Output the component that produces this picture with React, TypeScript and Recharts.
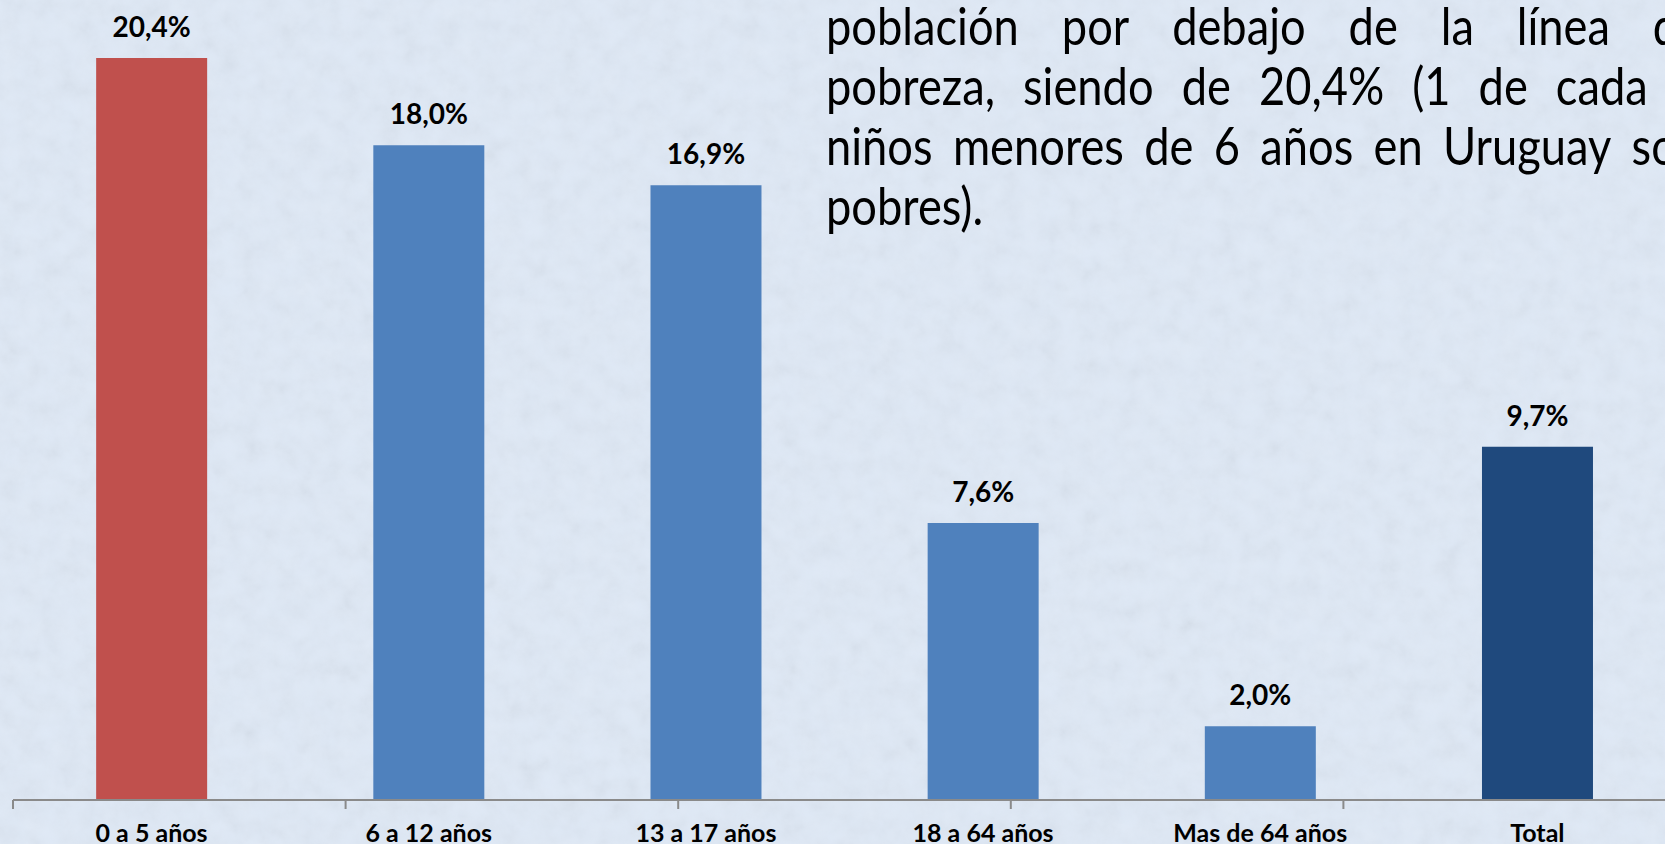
import { BarChart, Bar, XAxis, YAxis, LabelList, Cell } from 'recharts';

// Pobreza por tramo de edad (%)
const categories = ['0 a 5 años', '6 a 12 años', '13 a 17 años', '18 a 64 años', 'Mas de 64 años', 'Total'];
const values = [20.4, 18.0, 16.9, 7.6, 2.0, 9.7];
const barColors = ['#C0504D', '#4F81BD', '#4F81BD', '#4F81BD', '#4F81BD', '#1F497D'];
const boundaryTicks = [0, 1, 2, 3, 4, 5, 6];

const textLines = [
  ['población', 'por', 'debajo', 'de', 'la', 'línea', 'de'],
  ['pobreza,', 'siendo', 'de', '20,4%', '(1', 'de', 'cada', '5'],
  ['niños', 'menores', 'de', '6', 'años', 'en', 'Uruguay', 'son'],
];
const lastLine = 'pobres).';

const FONT = 'Lato, "Open Sans", sans-serif';

export default function App() {
  const chartData = categories.map((name, i) => ({ name, value: values[i] }));

  // Comma decimal, as in the original slide
  const fmt = (v: any) => `${Number(v).toFixed(1).replace('.', ',')}%`;

  return (
    <div
      style={{
        position: 'fixed',
        left: 0,
        top: 0,
        width: 1665,
        height: 844,
        overflow: 'hidden',
        background: '#dfe9f6',
        fontFamily: FONT,
      }}
    >
      {/* mottled paper texture */}
      <svg width={1665} height={844} style={{ position: 'absolute', left: 0, top: 0 }}>
        <filter id="paper">
          <feTurbulence type="fractalNoise" baseFrequency="0.05" numOctaves={4} seed={3} />
          <feColorMatrix type="saturate" values="0" />
        </filter>
        <rect width="100%" height="100%" filter="url(#paper)" opacity={0.12} />
      </svg>

      <div style={{ position: 'absolute', left: 0, top: 0 }}>
        <BarChart
          width={1700}
          height={844}
          data={chartData}
          margin={{ top: 0, right: 24, bottom: 43, left: 13 }}
          barCategoryGap="30%"
        >
          <YAxis hide domain={[0, 22]} yAxisId="y" />
          {/* tick marks sit on the category boundaries */}
          <XAxis
            xAxisId="grid"
            type="number"
            domain={[0, 6]}
            ticks={boundaryTicks}
            allowDataOverflow
            height={1}
            tickFormatter={() => ''}
            tickSize={9}
            tickLine={{ stroke: '#8a8a8a', strokeWidth: 2 }}
            axisLine={{ stroke: '#8a8a8a', strokeWidth: 2 }}
          />
          <XAxis
            xAxisId="cat"
            dataKey="name"
            height={1}
            tickSize={0}
            tickMargin={25}
            tickLine={false}
            axisLine={false}
            interval={0}
            tick={{ fill: '#000', fontSize: 25, fontWeight: 700, fontFamily: FONT }}
          />
          <Bar dataKey="value" xAxisId="cat" yAxisId="y" isAnimationActive={false}>
            {chartData.map((d, i) => (
              <Cell key={d.name} fill={barColors[i]} />
            ))}
            <LabelList
              dataKey="value"
              position="top"
              offset={21}
              formatter={fmt}
              style={{ fill: '#000', fontSize: 28, fontWeight: 700, fontFamily: FONT }}
            />
          </Bar>
        </BarChart>
      </div>

      <div
        style={{
          position: 'absolute',
          left: 826,
          top: 0,
          width: 1007,
          transform: 'scaleX(0.87)',
          transformOrigin: 'left top',
          fontSize: 52,
          lineHeight: '60px',
          color: '#000',
          whiteSpace: 'nowrap',
          marginTop: -5,
        }}
      >
        {textLines.map((words, i) => (
          <div key={i} style={{ display: 'flex', justifyContent: 'space-between' }}>
            {words.map((w, j) => (
              <span key={j}>{w}</span>
            ))}
          </div>
        ))}
        <div>{lastLine}</div>
      </div>
    </div>
  );
}
